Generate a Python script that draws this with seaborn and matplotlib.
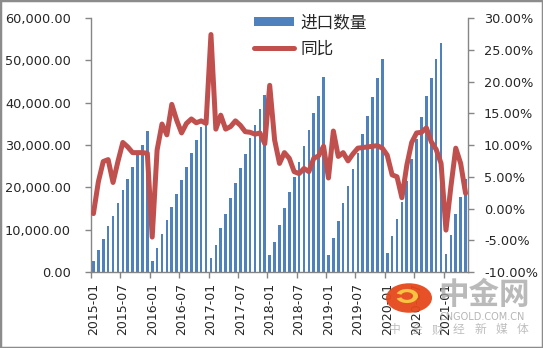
import numpy as np
import pandas as pd
import matplotlib
matplotlib.use("Agg")
import matplotlib.pyplot as plt
from matplotlib.patches import Patch, Rectangle, Wedge
from matplotlib.lines import Line2D
from matplotlib.ticker import FuncFormatter
import seaborn as sns

# Monthly cumulative import quantity and year-on-year change, 2015-01 .. 2021-05
months = pd.date_range("2015-01-01", "2021-05-01", freq="MS").strftime("%Y-%m").tolist()

import_qty = [
    2600, 5270, 7880, 10870, 13240, 16400, 19390, 21990, 24900, 27580, 30020, 33330,
    2600, 5750, 8980, 12290, 15370, 18520, 21750, 24900, 28130, 31210, 34280, 37400,
    3310, 6380, 10330, 13790, 17490, 21040, 24590, 27900, 31700, 34750, 38530, 41840,
    4020, 7090, 11110, 15130, 18910, 22460, 26000, 29870, 33570, 37590, 41610, 46100,
    4020, 8040, 12060, 16310, 20330, 24350, 28130, 32620, 36880, 41370, 45860, 50350,
    4490, 8510, 12530, 16550, 21500, 26700, 31500, 36640, 41610, 45860, 50430, 54140,
    4260, 8750, 13710, 17800, 21990,
]

yoy_pct = [
    -0.8, 4.2, 7.4, 7.7, 4.1, 7.4, 10.4, 9.7, 8.8, 8.8, 8.8, 8.7,
    -4.5, 9.2, 13.3, 11.6, 16.4, 13.9, 11.9, 13.4, 14.1, 13.5, 13.8, 13.4,
    27.4, 12.5, 14.7, 12.5, 12.9, 13.8, 13.1, 12.1, 12.0, 11.7, 11.9, 10.2,
    19.4, 10.8, 7.1, 8.8, 7.9, 5.8, 5.5, 6.3, 5.8, 7.9, 8.3, 9.8,
    4.8, 12.2, 8.2, 8.8, 7.5, 8.6, 9.5, 9.6, 9.7, 9.8, 9.9, 9.5,
    8.4, 5.3, 5.0, 1.7, 6.8, 10.4, 11.9, 12.0, 12.7, 10.5, 9.3, 7.1,
    -3.4, 3.4, 9.5, 7.1, 2.4,
]

bar_label = "进口数量"
line_label = "同比"

BLUE = "#4F81BD"
RED = "#C0504D"
GRAY = "#868686"
MARK_GRAY = "#a3a3a3"

sns.set_style("white")
plt.rcParams["font.family"] = ["DejaVu Sans", "Noto Sans CJK SC"]

df = pd.DataFrame({"month": months, "pos": np.arange(len(months)),
                   "qty": import_qty, "yoy": yoy_pct})
n = len(df)

W, H = 543, 348
fig = plt.figure(figsize=(W / 100, H / 100), dpi=100)
ax = fig.add_axes([91 / W, 1 - 272 / H, (468 - 91) / W, (272 - 18) / H])

sns.barplot(data=df, x="pos", y="qty", color=BLUE, saturation=1,
            width=0.54, linewidth=0, ax=ax)

ax2 = ax.twinx()
sns.lineplot(data=df, x="pos", y="yoy", color=RED, lw=3.6, ax=ax2,
             solid_capstyle="round", solid_joinstyle="round")

ax.set_xlim(-0.5, n - 0.5)
ax.set_ylim(0, 60000)
ax2.set_ylim(-10, 30)

# x axis: labels every six months, tick marks on category boundaries
major = list(range(0, n, 6))
ax.set_xticks(major)
ax.set_xticklabels([months[i] for i in major], rotation=90, fontsize=9)
ax.set_xticks([i - 0.5 for i in major], minor=True)
ax.tick_params(axis="x", which="major", length=0, pad=8)
ax.tick_params(axis="x", which="minor", length=4, width=1, color=GRAY,
               direction="out", bottom=True)
ax.set_xlabel("")

ax.set_yticks(np.arange(0, 60001, 10000))
ax.yaxis.set_major_formatter(FuncFormatter(lambda v, p: f"{v:,.2f}"))
ax.tick_params(axis="y", length=4, width=1, color=GRAY, direction="out",
               left=True, labelsize=9.3, pad=10.5)
ax.set_ylabel("")

ax2.set_yticks(np.arange(-10, 31, 5))
ax2.yaxis.set_major_formatter(FuncFormatter(lambda v, p: f"{v:.2f}%"))
ax2.tick_params(axis="y", length=4, width=1, color=GRAY, direction="out",
                right=True, labelsize=9.3, pad=7.5)
ax2.set_ylabel("")

for a in (ax, ax2):
    a.grid(False)
    a.spines["top"].set_visible(False)
    for s in ("left", "right", "bottom"):
        a.spines[s].set_color(GRAY)
        a.spines[s].set_linewidth(1.0)
ax.spines["right"].set_visible(False)
ax2.spines["left"].set_visible(False)
ax2.spines["bottom"].set_visible(False)

handles = [Patch(facecolor=BLUE, edgecolor="none"),
           Line2D([0], [0], color=RED, lw=3.6, solid_capstyle="round")]
fig.legend(handles, [bar_label, line_label], loc="upper left",
           bbox_to_anchor=(246 / W, 1 - 6 / H), frameon=False,
           handlelength=2.35, handleheight=0.45,
           handletextpad=0.4, labelspacing=0.55, borderpad=0,
           prop={"family": ["Noto Sans CJK SC"], "size": 12})

# Publisher mark in the lower right corner
cx, cy = 409, 298
fig.patches.append(Wedge((cx / W, 1 - cy / H), 23 / W, 0, 360,
                         transform=fig.transFigure, facecolor="#E5481B",
                         edgecolor="none", alpha=0.95, zorder=5))
fig.patches.append(Wedge(((cx - 2) / W, 1 - (cy - 2) / H), 11 / W, 200, 520,
                         width=5 / W, transform=fig.transFigure,
                         facecolor="#F6C343", edgecolor="none", zorder=6))
fig.text(484 / W, 1 - 295 / H, "中金网", fontsize=22, color=MARK_GRAY,
         alpha=0.75, ha="center", va="center", fontweight="bold",
         family=["Noto Sans CJK SC"], zorder=6)
fig.text(482 / W, 1 - 317 / H, "CNGOLD.COM.CN", fontsize=7, color=MARK_GRAY,
         alpha=0.8, ha="center", va="center", zorder=6)
for k, ch in enumerate("中金财经新媒体"):
    fig.text((395 + 21.3 * k) / W, 1 - 330 / H, ch, fontsize=8.5,
             color=MARK_GRAY, alpha=0.7, ha="center", va="center",
             family=["Noto Sans CJK SC"], zorder=6)

fig.patches.append(Rectangle((0, 0), 1, 1, transform=fig.transFigure,
                             fill=False, edgecolor="#8c8c8c", lw=2.5,
                             zorder=10))

fig.savefig("out.png", dpi=100)
